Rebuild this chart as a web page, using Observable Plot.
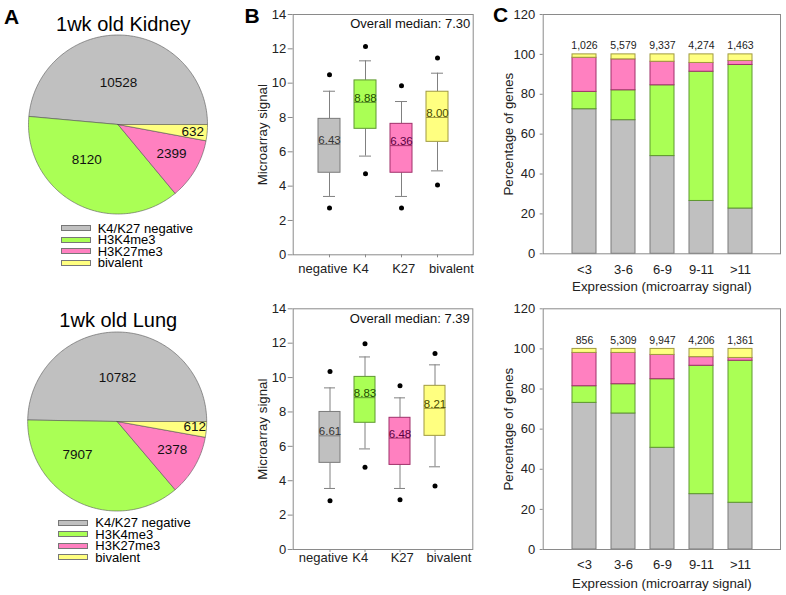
<!DOCTYPE html>
<html><head><meta charset="utf-8">
<script src="https://cdn.jsdelivr.net/npm/d3@7"></script>
<script src="https://cdn.jsdelivr.net/npm/@observablehq/plot@0.6"></script>
<style>
body{margin:0;background:#fff;font-family:"Liberation Sans",Arial,sans-serif;}
#fig{position:relative;width:786px;height:595px;overflow:hidden;background:#fff;}
#fig svg{position:absolute;background:transparent;}
.panel{position:absolute;font-weight:bold;font-size:21px;line-height:21px;color:#000;}
.title{position:absolute;font-size:20px;line-height:20px;transform:translateX(-50%);white-space:nowrap;color:#000;}
.legend{position:absolute;font-size:13px;color:#000;}
.legend .row{display:flex;align-items:center;height:11.5px;white-space:nowrap;}
.legend .row span{line-height:11.5px;}
.legend .sw{width:28px;height:4px;border:1px solid #777;margin-right:7px;flex:none;}
</style></head>
<body><div id="fig"></div>
<script>
// ---------- data ----------
const categories = ["K4/K27 negative", "H3K4me3", "H3K27me3", "bivalent"];
const boxCats = ["negative", "K4", "K27", "bivalent"];
const colors = ["#c0c0c0", "#aaff55", "#ff80c0", "#ffff80"];
const darkColors = ["#7a7a7a", "#5f9830", "#a0306a", "#a09a40"];
const labelColors = ["#333333", "#234d00", "#5a0040", "#4a4a00"];

const kidneyCounts = [10528, 8120, 2399, 632];
const lungCounts = [10782, 7907, 2378, 612];

const kidneyMedian = [6.43, 8.88, 6.36, 8.00];
const kidneyQ1 = [4.78, 7.34, 4.78, 6.58];
const kidneyQ3 = [7.92, 10.16, 7.63, 9.50];
const kidneyWhiskerLow = [3.40, 5.75, 3.40, 4.89];
const kidneyWhiskerHigh = [9.53, 11.30, 8.93, 10.58];
const kidneyOutlierLow = [2.72, 4.72, 2.72, 4.06];
const kidneyOutlierHigh = [10.49, 12.14, 9.85, 11.46];
const kidneyOverallMedian = 7.30;

const lungMedian = [6.61, 8.83, 6.48, 8.21];
const lungQ1 = [5.04, 7.37, 4.92, 6.61];
const lungQ3 = [8.00, 10.04, 7.66, 9.52];
const lungWhiskerLow = [3.55, 5.85, 3.55, 4.81];
const lungWhiskerHigh = [9.40, 11.20, 8.82, 10.74];
const lungOutlierLow = [2.83, 4.79, 2.89, 3.70];
const lungOutlierHigh = [10.35, 11.96, 9.52, 11.40];
const lungOverallMedian = 7.39;

const bins = ["<3", "3-6", "6-9", "9-11", ">11"];
const kidneyBinTotals = ["1,026", "5,579", "9,337", "4,274", "1,463"];
const kidneyNegPct = [72.5, 67.0, 49.0, 26.5, 22.7];
const kidneyK4Pct = [8.7, 15.0, 35.5, 64.8, 72.0];
const kidneyK27Pct = [17.1, 15.5, 11.8, 4.4, 2.0];
const kidneyBivPct = [1.7, 2.5, 3.7, 4.3, 3.3];

const lungBinTotals = ["856", "5,309", "9,947", "4,206", "1,361"];
const lungNegPct = [73.1, 67.8, 50.7, 27.6, 23.3];
const lungK4Pct = [8.3, 14.6, 34.2, 64.0, 70.8];
const lungK27Pct = [16.6, 15.6, 12.1, 4.3, 1.4];
const lungBivPct = [2.0, 2.0, 3.0, 4.1, 4.5];

// ---------- helpers ----------
const fig = document.getElementById("fig");
const FONT = '"Liberation Sans", Arial, sans-serif';

function place(svg, left, top) {
  svg.style.left = left + "px";
  svg.style.top = top + "px";
  fig.appendChild(svg);
}

function pieChart(counts, o) {
  const W = 240, H = 200;
  const arcs = d3.pie().sort(null).startAngle(Math.PI / 2).endAngle(Math.PI / 2 - 2 * Math.PI)(counts);
  const marks = [];
  arcs.forEach((a, i) => {
    const n = Math.max(2, Math.ceil(Math.abs(a.endAngle - a.startAngle) / (Math.PI / 180)));
    const pts = [{x: 0, y: 0}];
    for (let k = 0; k <= n; k++) {
      const t = a.startAngle + (a.endAngle - a.startAngle) * k / n;
      pts.push({x: o.r * Math.sin(t), y: o.r * Math.cos(t)});
    }
    pts.push({x: 0, y: 0});
    marks.push(Plot.line(pts, {x: "x", y: "y", fill: colors[i], stroke: "#555", strokeWidth: 0.6}));
  });
  const labels = arcs.map((a, i) => {
    const m = (a.startAngle + a.endAngle) / 2 + (o.labelShift[i] * Math.PI / 180);
    const rr = o.r * o.labelR[i];
    return {x: rr * Math.sin(m), y: rr * Math.cos(m), t: String(a.data)};
  });
  marks.push(Plot.text(labels, {x: "x", y: "y", text: "t", fontSize: 13.5, fill: "#111"}));
  const svg = Plot.plot({
    width: W, height: H, margin: 0,
    style: {fontFamily: FONT, background: "transparent", overflow: "visible"},
    x: {domain: [-o.cx, W - o.cx], axis: null},
    y: {domain: [-H / 2, H / 2], axis: null},
    marks
  });
  place(svg, 0, o.cy - H / 2);
}

// horizontal nudges of the category labels under panel B (as in the reference layout)
const boxLabelNudge = [-6.6, -4.8, 2.2, 14];

function boxChart(s, o) {
  const rows = boxCats.map((c, i) => ({
    cat: c, median: s.median[i], q1: s.q1[i], q3: s.q3[i], wlo: s.wlo[i], whi: s.whi[i],
    fill: colors[i], dark: darkColors[i], lab: labelColors[i]
  }));
  const outliers = boxCats.flatMap((c, i) => [{cat: c, v: s.olo[i]}, {cat: c, v: s.ohi[i]}]);
  const plotW = o.width - o.ml - o.mr;
  const step = plotW / (boxCats.length + 1), bw = 22;
  const pi = 1 - bw / step, po = (1 + pi) / 2;
  const catLabels = boxCats.map((c, i) =>
    Plot.text([c], {x: d => d, frameAnchor: "bottom", lineAnchor: "top", dy: o.xPad, dx: boxLabelNudge[i], fontSize: 13, fill: "#222"}));
  const svg = Plot.plot({
    width: o.width, height: o.height,
    marginTop: o.mt, marginRight: o.mr, marginBottom: o.mb, marginLeft: o.ml,
    style: {fontFamily: FONT, fontSize: "13px", color: "#222", background: "transparent", overflow: "visible"},
    x: {type: "band", domain: boxCats, paddingInner: pi, paddingOuter: po, align: 0.5},
    y: {domain: [0, 14]},
    marks: [
      Plot.frame({stroke: "#8a8a8a"}),
      Plot.axisY({ticks: d3.range(0, 15, 2), tickSize: 5, tickPadding: 2, label: null, fontSize: 13, stroke: "#8a8a8a"}),
      Plot.axisX({tickSize: 3, text: null, label: null, stroke: "#8a8a8a"}),
      ...catLabels,
      Plot.text(["Microarray signal"], {frameAnchor: "left", textAnchor: "middle", lineAnchor: "middle", rotate: -90, dx: -30, fontSize: 13.3, fill: "#222"}),
      Plot.ruleX(rows, {x: "cat", y1: "wlo", y2: "q1", stroke: "#808080"}),
      Plot.ruleX(rows, {x: "cat", y1: "q3", y2: "whi", stroke: "#808080"}),
      Plot.tickY(rows, {x: "cat", y: "wlo", stroke: "#808080", insetLeft: 5, insetRight: 5}),
      Plot.tickY(rows, {x: "cat", y: "whi", stroke: "#808080", insetLeft: 5, insetRight: 5}),
      Plot.barY(rows, {x: "cat", y1: "q1", y2: "q3", fill: d => d.fill, stroke: d => d.dark}),
      Plot.tickY(rows, {x: "cat", y: "median", stroke: d => d.dark}),
      Plot.text(rows, {x: "cat", y: "median", text: d => d.median.toFixed(2), lineAnchor: "bottom", dy: -0.5, fontSize: 11.5, fill: d => d.lab}),
      Plot.dot(outliers, {x: "cat", y: "v", r: 2.5, fill: "#000"}),
      Plot.text([s.overall], {frameAnchor: "top-right", textAnchor: "end", lineAnchor: "top", text: d => `Overall median: ${d.toFixed(2)}`, dx: -3, dy: o.ovDy, fontSize: 13, fill: "#111"})
    ]
  });
  place(svg, o.left, o.top);
}

function barChart(s, o) {
  const series = [s.neg, s.k4, s.k27, s.biv];
  const tidy = bins.flatMap((b, j) => series.map((arr, k) => ({bin: b, k, pct: arr[j]})));
  const tops = bins.map((b, j) => ({bin: b, total: d3.sum(series, arr => arr[j]), label: s.totals[j]}));
  const plotW = o.width - o.ml - o.mr;
  const step = plotW / (bins.length + 1), bw = 24;
  const pi = 1 - bw / step, po = (1 + pi) / 2;
  const svg = Plot.plot({
    width: o.width, height: o.height,
    marginTop: o.mt, marginRight: o.mr, marginBottom: o.mb, marginLeft: o.ml,
    style: {fontFamily: FONT, fontSize: "13px", color: "#222", background: "transparent", overflow: "visible"},
    x: {type: "band", domain: bins, paddingInner: pi, paddingOuter: po, align: 0.5},
    y: {domain: [0, 120]},
    marks: [
      Plot.barY(tidy, {x: "bin", y: "pct", fill: d => colors[d.k], stroke: d => darkColors[d.k], strokeWidth: 1}),
      Plot.frame({stroke: "#8a8a8a"}),
      Plot.axisY({ticks: d3.range(0, 121, 20), tickSize: 3, tickPadding: 5, label: null, fontSize: 13, stroke: "#8a8a8a"}),
      Plot.axisX({tickSize: 0, tickPadding: o.xPad, label: null, fontSize: 13}),
      Plot.text(["Percentage of genes"], {frameAnchor: "left", textAnchor: "middle", lineAnchor: "middle", rotate: -90, dx: -34.4, fontSize: 13.3, fill: "#222"}),
      Plot.text(["Expression (microarray signal)"], {frameAnchor: "bottom", textAnchor: "middle", lineAnchor: "middle", dy: o.xLabDy, fontSize: 13.3, fill: "#222"}),
      Plot.text(tops, {x: "bin", y: "total", text: "label", lineAnchor: "middle", dy: -8.3, fontSize: 10.5, fill: "#222"})
    ]
  });
  place(svg, o.left, o.top);
}

// ---------- charts ----------
pieChart(kidneyCounts, {cx: 117.5, cy: 123.5, r: 89.5, labelR: [0.47, 0.525, 0.68, 0.84], labelShift: [-2, 14, -2, 0]});
pieChart(lungCounts, {cx: 116.7, cy: 420.8, r: 89.5, labelR: [0.49, 0.575, 0.69, 0.87], labelShift: [0, 25, -3, -1]});

boxChart({median: kidneyMedian, q1: kidneyQ1, q3: kidneyQ3, wlo: kidneyWhiskerLow, whi: kidneyWhiskerHigh,
  olo: kidneyOutlierLow, ohi: kidneyOutlierHigh, overall: kidneyOverallMedian},
  {left: 240, top: 0, width: 240, height: 290, ml: 52.7, mr: 7.3, mt: 14, mb: 35.7, xPad: 9, ovDy: 4});
boxChart({median: lungMedian, q1: lungQ1, q3: lungQ3, wlo: lungWhiskerLow, whi: lungWhiskerHigh,
  olo: lungOutlierLow, ohi: lungOutlierHigh, overall: lungOverallMedian},
  {left: 240, top: 295, width: 240, height: 300, ml: 52.7, mr: 7.7, mt: 13.3, mb: 46, xPad: 3, ovDy: 5});

barChart({neg: kidneyNegPct, k4: kidneyK4Pct, k27: kidneyK27Pct, biv: kidneyBivPct, totals: kidneyBinTotals},
  {left: 480, top: 0, width: 306, height: 295, ml: 62.7, mr: 6, mt: 14, mb: 41.7, xPad: 11, xLabDy: 33.4});
barChart({neg: lungNegPct, k4: lungK4Pct, k27: lungK27Pct, biv: lungBivPct, totals: lungBinTotals},
  {left: 480, top: 295, width: 306, height: 300, ml: 62.7, mr: 6, mt: 13.3, mb: 46, xPad: 10.5, xLabDy: 34.3});

// ---------- html text: panel letters, titles, legends ----------
function addDiv(cls, text, left, top) {
  const d = document.createElement("div");
  d.className = cls; d.textContent = text;
  d.style.left = left + "px"; d.style.top = top + "px";
  fig.appendChild(d);
  return d;
}
addDiv("panel", "A", 4, 5.5);
addDiv("panel", "B", 244.5, 5);
addDiv("panel", "C", 493, 4);
addDiv("title", "1wk old Kidney", 123.3, 14.1);
addDiv("title", "1wk old Lung", 118.3, 309.8);

function legend(left, top) {
  const lg = document.createElement("div");
  lg.className = "legend";
  lg.style.left = left + "px"; lg.style.top = top + "px";
  categories.forEach((c, i) => {
    const row = document.createElement("div"); row.className = "row";
    const sw = document.createElement("div"); sw.className = "sw"; sw.style.background = colors[i];
    const t = document.createElement("span"); t.textContent = c;
    row.appendChild(sw); row.appendChild(t); lg.appendChild(row);
  });
  fig.appendChild(lg);
}
legend(60.7, 222.5);
legend(58.3, 517);
</script>
</body></html>
